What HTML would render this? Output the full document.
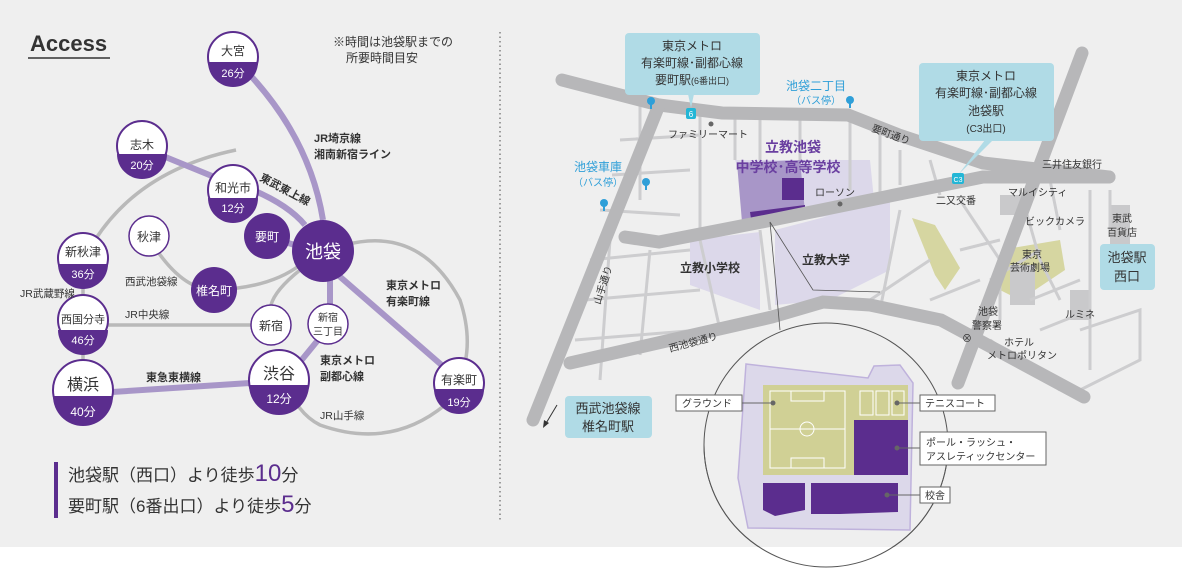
<!DOCTYPE html>
<html><head><meta charset="utf-8"><style>
html,body{margin:0;padding:0;background:#fff}
svg{display:block}
text{font-family:"Liberation Sans","Noto Sans CJK JP",sans-serif;fill:#333}
</style></head><body>
<svg width="1182" height="574" viewBox="0 0 1182 574" xmlns="http://www.w3.org/2000/svg">
<rect x="0" y="0" width="1182" height="547" fill="#efefef"/>
<!-- divider -->
<line x1="500" y1="32" x2="500" y2="520" stroke="#666" stroke-width="1.2" stroke-dasharray="1.5 3"/>

<!-- ===== LEFT ===== -->
<text x="30" y="51" font-size="22" font-weight="bold" fill="#222">Access</text>
<line x1="28" y1="58" x2="110" y2="58" stroke="#333" stroke-width="1.5"/>
<text x="333" y="46" font-size="12">※時間は池袋駅までの</text>
<text x="346" y="62" font-size="12">所要時間目安</text>

<g fill="none" stroke="#b9b9b9" stroke-width="3.5">
<path d="M236,150 Q140,170 95,240"/>
<line x1="83" y1="280" x2="83" y2="298"/>
<line x1="83" y1="340" x2="83" y2="360"/>
<line x1="108" y1="325" x2="252" y2="325"/>
<path d="M158,252 Q185,290 214,290 Q270,288 300,265"/>
<path d="M345,245 Q420,225 460,300 Q480,360 445,405 Q390,450 320,425 Q290,410 280,360"/>
<path d="M300,270 Q275,290 271,305"/>
</g>
<g fill="none" stroke="#a896c8" stroke-width="6">
<path d="M250,75 Q310,140 323,220"/>
<path d="M163,156 L212,176 Q280,195 305,225"/>
<line x1="285" y1="242" x2="298" y2="246"/>
<line x1="338" y1="275" x2="445" y2="368"/>
<line x1="330" y1="280" x2="330" y2="305"/>
<line x1="318" y1="340" x2="300" y2="362"/>
<line x1="112" y1="392" x2="250" y2="383"/>
</g>

<defs>
<clipPath id="c1"><circle cx="0" cy="0" r="24"/></clipPath>
</defs>
<!-- station template function drawn manually -->
<g>
<!-- 大宮 -->
<circle cx="233" cy="57" r="25" fill="#fff" stroke="#5b2d8e" stroke-width="2"/>
<path d="M208,62 H258 A25,25 0 0 1 208,62 Z" fill="#5b2d8e"/>
<text x="233" y="55" font-size="12" text-anchor="middle">大宮</text>
<text x="233" y="77" font-size="11" text-anchor="middle" fill="#fff" style="fill:#fff">26分</text>
<!-- 志木 -->
<circle cx="142" cy="146" r="25" fill="#fff" stroke="#5b2d8e" stroke-width="2"/>
<path d="M117,154 H167 A25,25 0 0 1 117,154 Z" fill="#5b2d8e"/>
<text x="142" y="149" font-size="12" text-anchor="middle">志木</text>
<text x="142" y="169" font-size="11" text-anchor="middle" style="fill:#fff">20分</text>
<!-- 和光市 -->
<circle cx="233" cy="190" r="25" fill="#fff" stroke="#5b2d8e" stroke-width="2"/>
<path d="M208,198 H258 A25,25 0 0 1 208,198 Z" fill="#5b2d8e"/>
<text x="233" y="192" font-size="12" text-anchor="middle">和光市</text>
<text x="233" y="212" font-size="11" text-anchor="middle" style="fill:#fff">12分</text>
<!-- 要町 -->
<circle cx="267" cy="236" r="23" fill="#5b2d8e"/>
<text x="267" y="241" font-size="12" text-anchor="middle" style="fill:#fff">要町</text>
<!-- 池袋 -->
<circle cx="323" cy="251" r="31" fill="#5b2d8e"/>
<text x="323" y="258" font-size="18" text-anchor="middle" style="fill:#fff">池袋</text>
<!-- 秋津 -->
<circle cx="149" cy="236" r="20" fill="#fff" stroke="#5b2d8e" stroke-width="1.5"/>
<text x="149" y="241" font-size="12" text-anchor="middle">秋津</text>
<!-- 椎名町 -->
<circle cx="214" cy="290" r="23" fill="#5b2d8e"/>
<text x="214" y="295" font-size="12" text-anchor="middle" style="fill:#fff">椎名町</text>
<!-- 新秋津 -->
<circle cx="83" cy="258" r="25" fill="#fff" stroke="#5b2d8e" stroke-width="2"/>
<path d="M58,264 H108 A25,25 0 0 1 58,264 Z" fill="#5b2d8e"/>
<text x="83" y="256" font-size="12" text-anchor="middle">新秋津</text>
<text x="83" y="278" font-size="11" text-anchor="middle" style="fill:#fff">36分</text>
<!-- 西国分寺 -->
<circle cx="83" cy="320" r="25" fill="#fff" stroke="#5b2d8e" stroke-width="2"/>
<path d="M58,330 H108 A25,25 0 0 1 58,330 Z" fill="#5b2d8e"/>
<text x="83" y="323" font-size="11" text-anchor="middle">西国分寺</text>
<text x="83" y="344" font-size="11" text-anchor="middle" style="fill:#fff">46分</text>
<!-- 横浜 -->
<circle cx="83" cy="390" r="30" fill="#fff" stroke="#5b2d8e" stroke-width="2"/>
<path d="M53,396 H113 A30,30 0 0 1 53,396 Z" fill="#5b2d8e"/>
<text x="83" y="390" font-size="16" text-anchor="middle">横浜</text>
<text x="83" y="416" font-size="12" text-anchor="middle" style="fill:#fff">40分</text>
<!-- 新宿 -->
<circle cx="271" cy="325" r="20" fill="#fff" stroke="#5b2d8e" stroke-width="1.5"/>
<text x="271" y="330" font-size="12" text-anchor="middle">新宿</text>
<!-- 新宿三丁目 -->
<circle cx="328" cy="324" r="20" fill="#fff" stroke="#5b2d8e" stroke-width="1.5"/>
<text x="328" y="321" font-size="10" text-anchor="middle">新宿</text>
<text x="328" y="335" font-size="10" text-anchor="middle">三丁目</text>
<!-- 渋谷 -->
<circle cx="279" cy="380" r="30" fill="#fff" stroke="#5b2d8e" stroke-width="2"/>
<path d="M249,385 H309 A30,30 0 0 1 249,385 Z" fill="#5b2d8e"/>
<text x="279" y="379" font-size="16" text-anchor="middle">渋谷</text>
<text x="279" y="403" font-size="12" text-anchor="middle" style="fill:#fff">12分</text>
<!-- 有楽町 -->
<circle cx="459" cy="383" r="25" fill="#fff" stroke="#5b2d8e" stroke-width="2"/>
<path d="M434,389 H484 A25,25 0 0 1 434,389 Z" fill="#5b2d8e"/>
<text x="459" y="384" font-size="12" text-anchor="middle">有楽町</text>
<text x="459" y="406" font-size="11" text-anchor="middle" style="fill:#fff">19分</text>
</g>

<g font-size="11" font-weight="bold">
<text x="314" y="142">JR埼京線</text>
<text x="314" y="158">湘南新宿ライン</text>
<text x="259" y="180" transform="rotate(28 259 180)">東武東上線</text>
<text x="386" y="289">東京メトロ</text>
<text x="386" y="305">有楽町線</text>
<text x="320" y="364">東京メトロ</text>
<text x="320" y="380">副都心線</text>
<text x="146" y="381">東急東横線</text>
</g>
<g font-size="10.5">
<text x="125" y="285">西武池袋線</text>
<text x="20" y="297">JR武蔵野線</text>
<text x="125" y="318">JR中央線</text>
<text x="320" y="419">JR山手線</text>
</g>
<rect x="54" y="462" width="4" height="56" fill="#5b2d8e"/>
<text x="68" y="481" font-size="17">池袋駅（西口）より徒歩<tspan font-size="24" style="fill:#5b2d8e">10</tspan>分</text>
<text x="68" y="512" font-size="17">要町駅（6番出口）より徒歩<tspan font-size="24" style="fill:#5b2d8e">5</tspan>分</text>

<!-- ===== RIGHT MAP ===== -->
<!-- campus areas -->
<g fill="#dcd8ea">
<polygon points="735,160 870,160 875,210 760,225"/>
<polygon points="690,240 760,232 760,310 690,285"/>
<polygon points="775,230 890,200 890,270 830,300 775,305"/>
</g>
<polygon points="737,163 800,160 805,212 770,222 742,222" fill="#a896c8"/>
<rect x="782" y="178" width="22" height="22" fill="#5b2d8e"/>
<polygon points="750,212 805,205 805,218 752,226" fill="#5b2d8e"/>
<!-- yellow areas -->
<g fill="#d6d6a1">
<polygon points="912,218 935,225 960,268 945,290 935,275"/>
<polygon points="1012,248 1060,240 1065,270 1020,300 1000,290"/>
</g>
<g fill="#c9c9cb">
<rect x="1110" y="205" width="20" height="40"/>
<rect x="1010" y="265" width="25" height="40"/>
<rect x="1070" y="290" width="20" height="30"/>
<rect x="1000" y="195" width="25" height="20"/>
</g>
<!-- minor streets -->
<g fill="none" stroke="#cdcdcf" stroke-width="3">
<path d="M640,105 L640,200 M700,110 L700,230 M620,140 L700,135 M612,175 L690,170 M600,210 L680,215 M590,260 L690,250 M585,300 L700,290 M575,340 L700,330 M610,240 L600,380 M650,250 L640,355 M735,110 L735,160 M760,110 L760,160 M800,110 L800,160 M850,120 L850,190 M880,135 L880,195 M900,150 L900,185 M930,160 L940,195 M700,240 L720,330 M760,230 L770,310 M900,210 L880,310 M870,300 L930,260 M960,200 L1000,260 L1000,320 M1020,190 L1040,260 L1060,300 M1030,300 L1080,280 M1040,330 L1090,310 M990,280 L1040,250 M960,250 L1000,240 M1090,190 L1090,370 M1110,190 L1110,230 M1050,180 L1060,230 M930,300 L980,280 M990,340 L1060,390 M1080,330 L1140,310 L1140,360 L1080,390"/>
</g>
<!-- main roads -->
<g fill="none" stroke="#b7b7b9" stroke-width="13" stroke-linecap="round">
<path d="M562,80 L659,105 L722,113 L848,115 L899,135 L983,163 L1109,177"/>
<path d="M659,105 L533,420"/>
<path d="M625,237 L659,242 L772,220 L983,177 L1109,177"/>
<path d="M1082,53 L958,383"/>
<path d="M570,363 L772,317 L823,302 L870,305 L941,320 L1084,397"/>
</g>
<!-- callout lines -->
<polyline points="770,222 780,330" fill="none" stroke="#555" stroke-width="0.8"/>
<polyline points="770,222 813,290 880,292" fill="none" stroke="#555" stroke-width="0.8"/>
<!-- callout circle -->
<circle cx="826" cy="445" r="122" fill="#efefef" stroke="#555" stroke-width="1"/>
<rect x="690" y="547" width="280" height="27" fill="#fff"/>
<path d="M704,445 A122,122 0 0 0 948,445" fill="none" stroke="#555" stroke-width="1" transform="translate(0,0)"/>
<polygon points="746,364 868,378 874,366 900,365 913,383 910,530 748,528 738,478" fill="#dcd8ea" stroke="#bfb2dc" stroke-width="1.5"/>
<rect x="763" y="385" width="145" height="90" fill="#d0d095"/>
<g fill="none" stroke="#fff" stroke-width="1">
<rect x="770" y="391" width="75" height="77"/>
<line x1="770" y1="429" x2="845" y2="429"/>
<circle cx="807" cy="429" r="7"/>
<rect x="791" y="391" width="33" height="10"/>
<rect x="791" y="458" width="33" height="10"/>
<rect x="860" y="391" width="13" height="24"/><rect x="876" y="391" width="13" height="24"/><rect x="892" y="391" width="12" height="24"/>
</g>
<rect x="854" y="420" width="54" height="55" fill="#5b2d8e"/>
<polygon points="763,483 805,483 805,510 775,516 763,510" fill="#5b2d8e"/>
<polygon points="811,483 898,483 898,512 840,514 811,514" fill="#5b2d8e"/>
<g stroke="#666" stroke-width="1" fill="#666">
<line x1="742" y1="403" x2="773" y2="403"/><circle cx="773" cy="403" r="2"/>
<line x1="897" y1="403" x2="920" y2="403"/><circle cx="897" cy="403" r="2"/>
<line x1="897" y1="448" x2="920" y2="448"/><circle cx="897" cy="448" r="2"/>
<line x1="887" y1="495" x2="920" y2="495"/><circle cx="887" cy="495" r="2"/>
</g>
<g fill="#fff" stroke="#666" stroke-width="1">
<rect x="676" y="395" width="66" height="16"/>
<rect x="920" y="395" width="75" height="16"/>
<rect x="920" y="432" width="126" height="33"/>
<rect x="920" y="487" width="30" height="16"/>
</g>
<g font-size="10">
<text x="682" y="407">グラウンド</text>
<text x="925" y="407">テニスコート</text>
<text x="926" y="446">ポール・ラッシュ・</text>
<text x="926" y="460">アスレティックセンター</text>
<text x="925" y="499">校舎</text>
</g>

<!-- blue boxes -->
<g fill="#b0dbe6">
<rect x="625" y="33" width="135" height="62" rx="4"/>
<polygon points="688,94 694,94 691,108"/>
<rect x="919" y="63" width="135" height="78" rx="4"/>
<polygon points="985,140 993,140 958,175"/>
<rect x="1100" y="244" width="55" height="46" rx="4"/>
<rect x="565" y="396" width="87" height="42" rx="4"/>
</g>
<g font-size="12" text-anchor="middle">
<text x="692" y="50">東京メトロ</text>
<text x="692" y="67">有楽町線･副都心線</text>
<text x="692" y="84">要町駅<tspan font-size="9">(6番出口)</tspan></text>
<text x="986" y="80">東京メトロ</text>
<text x="986" y="97">有楽町線･副都心線</text>
<text x="986" y="115">池袋駅</text>
<text x="986" y="132" font-size="10">(C3出口)</text>
<text x="1127" y="262" font-size="13">池袋駅</text>
<text x="1127" y="281" font-size="13">西口</text>
<text x="608" y="413" font-size="13">西武池袋線</text>
<text x="608" y="431" font-size="13">椎名町駅</text>
</g>
<line x1="557" y1="405" x2="545" y2="425" stroke="#333" stroke-width="1"/>
<polygon points="543,428 544,420 549,423" fill="#333"/>
<!-- bus stops / markers -->
<g fill="#2f9fd8">
<circle cx="651" cy="101" r="4"/><rect x="650" y="101" width="2" height="8"/>
<circle cx="604" cy="203" r="4"/><rect x="603" y="203" width="2" height="8"/>
<circle cx="646" cy="182" r="4"/><rect x="645" y="182" width="2" height="8"/>
<circle cx="850" cy="100" r="4"/><rect x="849" y="100" width="2" height="8"/>
</g>
<rect x="686" y="108" width="10" height="11" rx="2" fill="#23b6d6"/>
<text x="691" y="117" font-size="8" text-anchor="middle" style="fill:#fff">6</text>
<rect x="952" y="173" width="12" height="11" rx="2" fill="#23b6d6"/>
<text x="958" y="182" font-size="7" text-anchor="middle" style="fill:#fff">C3</text>
<circle cx="711" cy="124" r="2.5" fill="#666"/>
<circle cx="840" cy="204" r="2.5" fill="#666"/>
<g font-size="12" style="fill:#2f9fd8" text-anchor="middle">
<text x="816" y="90" style="fill:#2f9fd8">池袋二丁目</text>
<text x="816" y="104" font-size="10" style="fill:#2f9fd8">（バス停）</text>
<text x="598" y="171" style="fill:#2f9fd8">池袋車庫</text>
<text x="598" y="186" font-size="10" style="fill:#2f9fd8">（バス停）</text>
</g>
<text x="793" y="152" font-size="14" font-weight="bold" text-anchor="middle" style="fill:#6a3fa0">立教池袋</text>
<text x="788" y="172" font-size="14" font-weight="bold" text-anchor="middle" style="fill:#6a3fa0">中学校･高等学校</text>
<g font-size="12" font-weight="bold" text-anchor="middle">
<text x="710" y="272">立教小学校</text>
<text x="826" y="264">立教大学</text>
</g>
<g font-size="10">
<text x="668" y="138">ファミリーマート</text>
<text x="815" y="196">ローソン</text>
<text x="936" y="204">二又交番</text>
<text x="1042" y="168">三井住友銀行</text>
<text x="1008" y="196">マルイシティ</text>
<text x="1025" y="225">ビックカメラ</text>
<text x="1112" y="222">東武</text>
<text x="1107" y="236">百貨店</text>
<text x="1022" y="258">東京</text>
<text x="1010" y="271">芸術劇場</text>
<text x="1065" y="318">ルミネ</text>
<text x="978" y="315">池袋</text>
<text x="972" y="329">警察署</text>
<text x="1004" y="346">ホテル</text>
<text x="987" y="359">メトロポリタン</text>
<text x="871" y="131" transform="rotate(20 871 131)">要町通り</text>
<text x="670" y="352" transform="rotate(-15 670 352)">西池袋通り</text>
<text x="600" y="305" transform="rotate(-72 600 305)">山手通り</text>
</g>
<text x="962" y="342" font-size="10" fill="#555">⊗</text>
</svg>
</body></html>
